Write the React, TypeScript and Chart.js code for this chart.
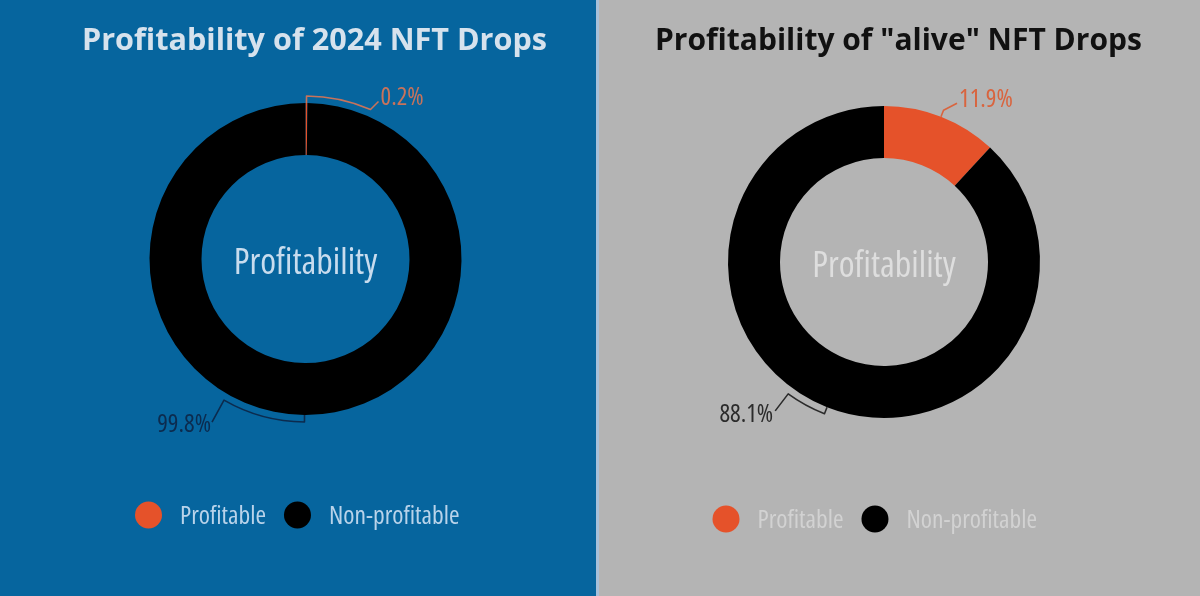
import React, { useEffect, useRef } from "react";
import { Chart, registerables } from "chart.js";

Chart.register(...registerables);

// ---------- data ----------
const categories = ["Profitable", "Non-profitable"];
const drops2024Values = [0.2, 99.8];
const aliveDropsValues = [11.9, 88.1];
const drops2024Labels = ["0.2%", "99.8%"];
const aliveDropsLabels = ["11.9%", "88.1%"];
const panelTitles = ["Profitability of 2024 NFT Drops", 'Profitability of "alive" NFT Drops'];
const centerLabel = "Profitability";

// ---------- styles ----------
const SLICE_COLORS = ["#e5522a", "#000000"];

function setNarrow(ctx: CanvasRenderingContext2D, size: number) {
  ctx.font = `normal 400 condensed ${size}px 'Open Sans', 'DejaVu Sans Condensed', sans-serif`;
  (ctx as any).fontStretch = "condensed";
}

const decorPlugin = {
  id: "decor",
  afterDatasetsDraw(chart: any, _args: any, opts: any) {
    const meta = chart.getDatasetMeta(0);
    const arcs = meta.data;
    if (!arcs || !arcs.length) return;
    const p0 = arcs[0].getProps(["x", "y", "outerRadius"], true);
    const cx = p0.x, cy = p0.y, R = p0.outerRadius;
    const ctx = chart.ctx as CanvasRenderingContext2D;
    ctx.save();

    // title
    ctx.font = `normal bold ${opts.title.size}px 'Open Sans', 'Noto Sans', sans-serif`;
    (ctx as any).fontStretch = "normal";
    ctx.fillStyle = opts.title.color;
    ctx.textAlign = "left";
    ctx.textBaseline = "alphabetic";
    ctx.fillText(opts.title.text, opts.title.x, opts.title.baseline);

    // centre text
    setNarrow(ctx, 36);
    ctx.fillStyle = opts.centerColor;
    ctx.textAlign = "center";
    ctx.fillText(opts.centerText, cx, cy + 15);

    // callouts
    arcs.forEach((arc: any, i: number) => {
      const c = opts.callouts[i];
      const { startAngle, endAngle } = arc.getProps(["startAngle", "endAngle"], true);
      const mid = (startAngle + endAngle) / 2;
      const r1 = R + c.gap;
      const endA = Math.max(-Math.PI / 2 + (c.arcEndDeg * Math.PI) / 180, mid);
      ctx.strokeStyle = c.color;
      ctx.lineWidth = 1.6;
      ctx.lineJoin = "round";
      ctx.beginPath();
      ctx.moveTo(cx + R * Math.cos(mid), cy + R * Math.sin(mid));
      ctx.arc(cx, cy, r1, mid, endA, false);
      const px = cx + r1 * Math.cos(endA);
      const py = cy + r1 * Math.sin(endA);
      const lx = px + c.dx, ly = py + c.dy;
      ctx.lineTo(lx, ly);
      ctx.stroke();
      setNarrow(ctx, 25);
      ctx.fillStyle = c.color;
      ctx.textAlign = c.dx >= 0 ? "left" : "right";
      ctx.fillText(opts.valueLabels[i], lx + c.tx, ly + c.ty);
    });

    // legend
    const lg = opts.legend;
    setNarrow(ctx, 25.5);
    ctx.textAlign = "left";
    let x = lg.x;
    const labels: string[] = chart.data.labels;
    const colors: string[] = chart.data.datasets[0].backgroundColor;
    labels.forEach((lab, i) => {
      ctx.fillStyle = colors[i];
      ctx.beginPath();
      ctx.arc(x, lg.y, lg.r, 0, Math.PI * 2);
      ctx.fill();
      ctx.fillStyle = lg.color;
      const tx = x + lg.gap;
      ctx.fillText(lab, tx, lg.y + 8.5);
      x = tx + ctx.measureText(lab).width + lg.gap;
    });
    ctx.restore();
  },
};

type PanelCfg = {
  width: number;
  bg: string;
  title: { text: string; color: string; x: number; baseline: number; size: number };
  values: number[];
  valueLabels: string[];
  centerColor: string;
  pad: { left: number; right: number; top: number; bottom: number };
  callouts: any[];
  legend: any;
};

function DonutPanel({ cfg }: { cfg: PanelCfg }) {
  const ref = useRef<HTMLCanvasElement | null>(null);
  useEffect(() => {
    if (!ref.current) return;
    const chart = new Chart(ref.current, {
      type: "doughnut",
      data: {
        labels: categories,
        datasets: [
          {
            data: cfg.values,
            backgroundColor: SLICE_COLORS,
            borderWidth: 0,
            hoverOffset: 0,
            radius: 156,
            cutout: "66.67%",
          } as any,
        ],
      },
      options: {
        animation: false,
        responsive: false,
        maintainAspectRatio: false,
        devicePixelRatio: 1,
        events: [],
        layout: { padding: cfg.pad },
        plugins: {
          legend: { display: false },
          tooltip: { enabled: false },
          title: { display: false },
          decor: {
            title: cfg.title,
            centerText: centerLabel,
            centerColor: cfg.centerColor,
            valueLabels: cfg.valueLabels,
            callouts: cfg.callouts,
            legend: cfg.legend,
          },
        } as any,
      },
      plugins: [decorPlugin],
    });
    return () => chart.destroy();
  }, [cfg]);
  return (
    <div style={{ width: cfg.width, height: 596, background: cfg.bg, flex: "none" }}>
      <canvas ref={ref} width={cfg.width} height={596} style={{ display: "block" }} />
    </div>
  );
}

const leftCfg: PanelCfg = {
  width: 596,
  bg: "#06659e",
  title: { text: panelTitles[0], color: "#d6e2ed", x: 82, baseline: 50, size: 30.6 },
  values: drops2024Values,
  valueLabels: drops2024Labels,
  centerColor: "#c8dcee",
  pad: { left: 82, right: 67, top: 67, bottom: 145 },
  callouts: [
    { gap: 7, arcEndDeg: 23.5, dx: 8, dy: -8, tx: 2, ty: 3, color: "#c8735b" },
    { gap: 7, arcEndDeg: 210, dx: -12, dy: 22, tx: -1, ty: 10, color: "#0c2b4e" },
  ],
  legend: { x: 148.5, y: 515, r: 13.5, gap: 31.5, color: "#b9d3ea" },
};

const rightCfg: PanelCfg = {
  width: 601,
  bg: "#b4b4b4",
  title: { text: panelTitles[1], color: "#111111", x: 56, baseline: 50, size: 30 },
  values: aliveDropsValues,
  valueLabels: aliveDropsLabels,
  centerColor: "#dedede",
  pad: { left: 56, right: 87, top: 67, bottom: 139 },
  callouts: [
    { gap: 7, arcEndDeg: 0, dx: 13.5, dy: -7, tx: 2, ty: 4, color: "#d9643e" },
    { gap: 7, arcEndDeg: 216, dx: -13, dy: 17, tx: -2, ty: 11, color: "#2b2b2b" },
  ],
  legend: { x: 127, y: 519, r: 13.5, gap: 31.5, color: "#d2d2d2" },
};

export default function App() {
  return (
    <div
      style={{
        position: "absolute",
        left: 0,
        top: 0,
        width: 1200,
        height: 596,
        display: "flex",
        overflow: "hidden",
      }}
    >
      <DonutPanel cfg={leftCfg} />
      <div style={{ width: 3, height: 596, background: "#a6c0da", flex: "none" }} />
      <DonutPanel cfg={rightCfg} />
    </div>
  );
}
